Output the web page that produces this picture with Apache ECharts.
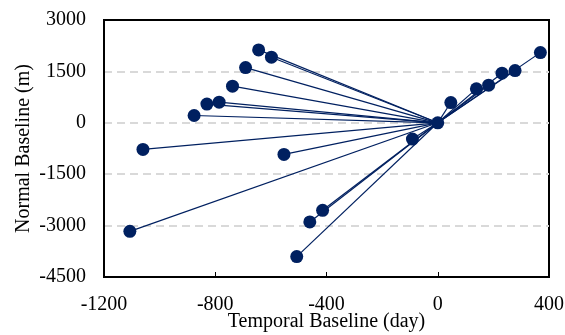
<!DOCTYPE html>
<html>
<head>
<meta charset="utf-8">
<script src="https://cdn.jsdelivr.net/npm/echarts@6/dist/echarts.min.js"></script>
<style>
  html, body { margin: 0; padding: 0; background: #fff; }
  #chart { width: 565px; height: 335px; }
</style>
</head>
<body>
<div id="chart"></div>
<script>
// Interferometric pairs: temporal (day) and perpendicular/normal (m) baselines
// relative to the reference acquisition at the origin.
var temporalBaseline = [369, 278, 231, 183, 139, 47, 0, -91, -644, -598, -691, -738, -786, -830, -876, -1060, -553, -1107, -507, -414, -460];
var normalBaseline   = [2048, 1524, 1448, 1098, 991, 591, 0, -475, 2127, 1914, 1611, 1069, 603, 545, 213, -778, -924, -3167, -3904, -2555, -2893];

var xTicks = { min: -1200, max: 400, interval: 400 };
var yTicks = { min: -4500, max: 3000, interval: 1500 };

var NAVY = '#002060';
var FONT = '"Liberation Serif", "Times New Roman", serif';

var points = temporalBaseline.map(function (t, i) { return [t, normalBaseline[i]]; });

function plain(v) { return String(v); }

// One thin segment from the reference image to each secondary image
var lineSeries = points.map(function (p) {
  return {
    type: 'line',
    data: [[0, 0], p],
    showSymbol: false,
    symbol: 'none',
    lineStyle: { color: NAVY, width: 1.2 },
    z: 2,
    silent: true,
    animation: false
  };
});

var chart = echarts.init(document.getElementById('chart'));
chart.setOption({
  animation: false,
  grid: {
    left: 104, top: 20, right: 16, bottom: 58,
    containLabel: false,
    outerBoundsMode: 'none',
    show: true, borderColor: '#000', borderWidth: 2, backgroundColor: 'transparent'
  },
  xAxis: {
    type: 'value',
    min: xTicks.min, max: xTicks.max, interval: xTicks.interval,
    name: 'Temporal Baseline (day)',
    nameLocation: 'middle',
    nameGap: 35,
    nameMoveOverlap: false,
    nameTextStyle: { fontFamily: FONT, fontSize: 20, color: '#000' },
    axisLine: { show: true, onZero: false, lineStyle: { color: '#000', width: 2 } },
    axisTick: { show: true, inside: true, length: 5, lineStyle: { color: '#000', width: 1 } },
    axisLabel: { fontFamily: FONT, fontSize: 20, color: '#000', margin: 18, formatter: plain },
    splitLine: { show: false }
  },
  yAxis: {
    type: 'value',
    min: yTicks.min, max: yTicks.max, interval: yTicks.interval,
    name: 'Normal Baseline (m)',
    nameLocation: 'middle',
    nameGap: 70,
    nameMoveOverlap: false,
    nameTextStyle: { fontFamily: FONT, fontSize: 20, color: '#000' },
    axisLine: { show: true, onZero: false, lineStyle: { color: '#000', width: 2 } },
    axisTick: { show: false },
    axisLabel: { fontFamily: FONT, fontSize: 20, color: '#000', margin: 18, formatter: plain },
    splitLine: {
      show: true, showMinLine: false, showMaxLine: false,
      lineStyle: { color: '#d9d9d9', width: 2, type: [8, 5] }
    }
  },
  series: lineSeries.concat([{
    type: 'scatter',
    data: points,
    symbol: 'circle',
    symbolSize: 13,
    itemStyle: { color: NAVY, opacity: 1 },
    z: 3,
    animation: false
  }])
});
</script>
</body>
</html>
